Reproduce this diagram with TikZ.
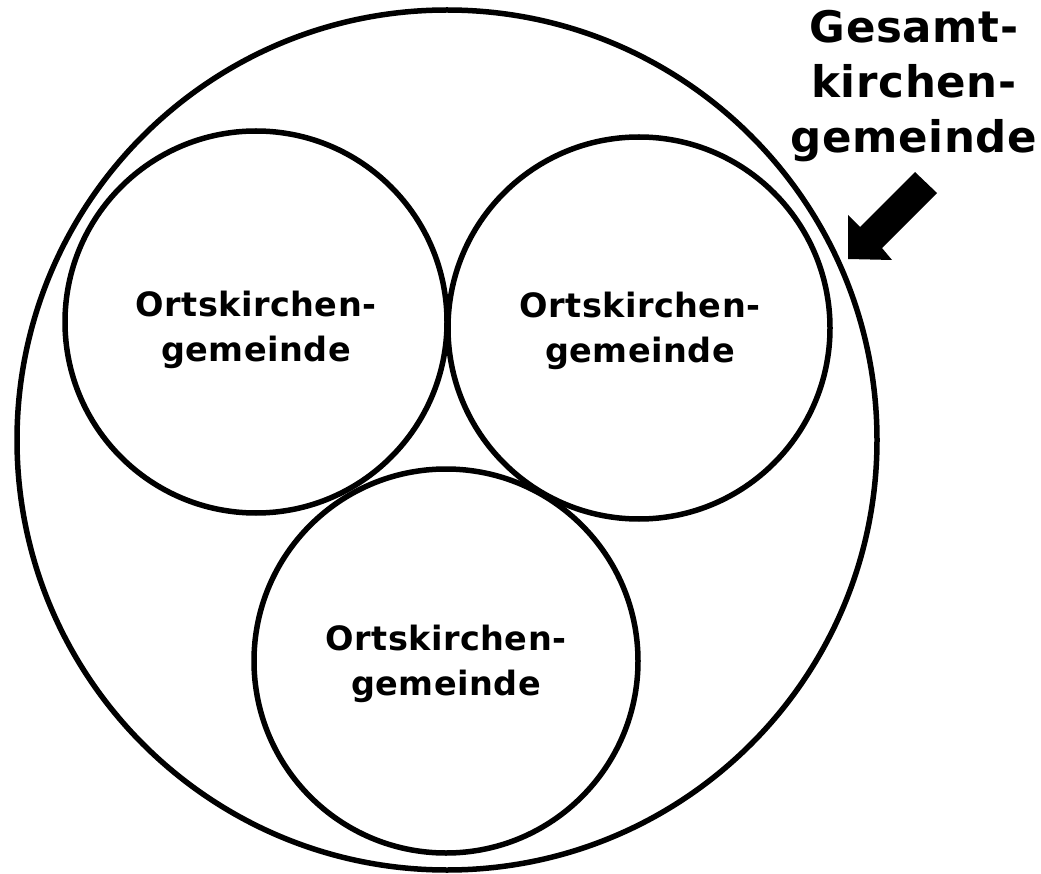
\documentclass[tikz,border=0pt]{standalone}
\usepackage{fontspec}
\setmainfont{DejaVu Sans}[LetterSpace=1.5]
\begin{document}
\begin{tikzpicture}[x=1pt,y=-1pt,
  ring/.style={circle,draw=black,line width=5.5pt,inner sep=0pt},
  lbl/.style={align=center,font=\fontsize{33.5}{45}\selectfont\bfseries},
  ttl/.style={align=center,font=\fontsize{43.5}{55}\selectfont\bfseries,inner sep=0pt}]
\useasboundingbox (0,0) rectangle (1041,874);
\node[ring,minimum size=860pt] (outer) at (447,440) {};
\node[ring,minimum size=382pt] (c1) at (256,322) {};
\node[ring,minimum size=382pt] (c2) at (639,328) {};
\node[ring,minimum size=384pt] (c3) at (446,661) {};
\node[lbl] (t1) at (256,330) {Ortskirchen-\\gemeinde};
\node[lbl] (t2) at (640,331) {Ortskirchen-\\gemeinde};
\node[lbl] (t3) at (446,664) {Ortskirchen-\\gemeinde};
\node[ttl] (title) at (914,86) {Gesamt-\\kirchen-\\gemeinde};
\coordinate (a1) at (915,172);
\coordinate (a2) at (937,193);
\coordinate (a3) at (882,248);
\coordinate (a4) at (892,260);
\coordinate (tip) at (848,259);
\coordinate (a6) at (848,215);
\coordinate (a7) at (860,227);
\fill[black] (a1) -- (a2) -- (a3) -- (a4) -- (tip) -- (a6) -- (a7) -- cycle;
\end{tikzpicture}
\end{document}
